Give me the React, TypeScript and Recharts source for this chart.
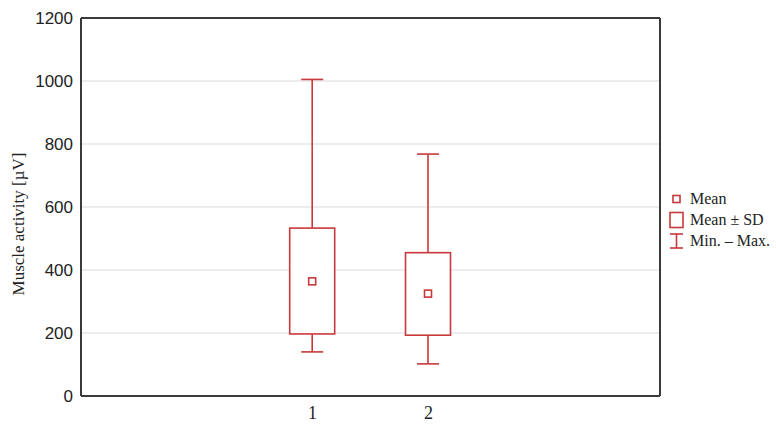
import { ComposedChart, Bar, XAxis, YAxis, CartesianGrid, ReferenceLine } from 'recharts';

const groups = [1, 2];
const minValues = [140, 102];
const sdLowValues = [197, 193];
const meanValues = [364, 325];
const sdHighValues = [533, 455];
const maxValues = [1005, 768];
const yTicks = [0, 200, 400, 600, 800, 1000, 1200];
const xTicks = [0, 1, 2, 3];

const RED = '#c8383c';
const FRAME = '#3a3a3a';

const data = groups.map((g, i) => ({
  group: g,
  range: [minValues[i], maxValues[i]],
  min: minValues[i],
  lo: sdLowValues[i],
  mean: meanValues[i],
  hi: sdHighValues[i],
  max: maxValues[i],
}));

// one bar spans min..max, the rest is placed with the same pixel scale
const BoxShape = (props: any) => {
  const { x, y, width, height, payload } = props;
  const k = height / (payload.max - payload.min);
  const py = (v: number) => y + (payload.max - v) * k;
  const cx = x + width / 2;
  const cap = 11;
  const m = 3.5;
  return (
    <g stroke={RED} strokeWidth={1.6} fill="none">
      <line x1={cx} x2={cx} y1={py(payload.max)} y2={py(payload.hi)} />
      <line x1={cx - cap} x2={cx + cap} y1={py(payload.max)} y2={py(payload.max)} />
      <line x1={cx} x2={cx} y1={py(payload.lo)} y2={py(payload.min)} />
      <line x1={cx - cap} x2={cx + cap} y1={py(payload.min)} y2={py(payload.min)} />
      <rect x={x} y={py(payload.hi)} width={width} height={py(payload.lo) - py(payload.hi)} fill="#fff" />
      <rect x={cx - m} y={py(payload.mean) - m} width={m * 2} height={m * 2} />
    </g>
  );
};

const YLabel = () => (
  <text
    x={18}
    y={224}
    transform="rotate(-90 18 224)"
    textAnchor="middle"
    dominantBaseline="central"
    fontFamily="'Liberation Serif', serif"
    fontSize={17}
    fill="#222"
  >
    Muscle activity [µV]
  </text>
);

function Legend() {
  const row = { display: 'flex', alignItems: 'center', height: 21 } as const;
  const txt = { fontFamily: "'Liberation Serif', serif", fontSize: 16, color: '#222', marginLeft: 6 };
  return (
    <div style={{ position: 'absolute', left: 668, top: 188 }}>
      <div style={row}>
        <svg width={16} height={16}>
          <rect x={5} y={4.5} width={7} height={7} stroke={RED} strokeWidth={1.6} fill="none" />
        </svg>
        <span style={txt}>Mean</span>
      </div>
      <div style={row}>
        <svg width={16} height={18}>
          <rect x={2} y={1.5} width={13} height={15} stroke={RED} strokeWidth={1.6} fill="none" />
        </svg>
        <span style={txt}>Mean ± SD</span>
      </div>
      <div style={row}>
        <svg width={16} height={18}>
          <g stroke={RED} strokeWidth={1.6}>
            <line x1={2} x2={15} y1={2} y2={2} />
            <line x1={8.5} x2={8.5} y1={2} y2={16} />
            <line x1={2} x2={15} y1={16} y2={16} />
          </g>
        </svg>
        <span style={txt}>Min. – Max.</span>
      </div>
    </div>
  );
}

export default function App() {
  return (
    <div style={{ position: 'absolute', left: 0, top: 0, width: 776, height: 431, background: '#fff' }}>
      <ComposedChart width={776} height={431} data={data} margin={{ top: 18, right: 116, bottom: 5, left: 0 }}>
        <CartesianGrid vertical={false} stroke="#dcdcdc" strokeWidth={1.2} />
        <XAxis
          dataKey="group"
          type="number"
          domain={[-1, 4]}
          ticks={xTicks}
          tickFormatter={(v: number) => (groups.includes(v) ? String(v) : '')}
          height={30}
          axisLine={{ stroke: FRAME, strokeWidth: 2 }}
          tickLine={false}
          tickSize={0}
          tickMargin={10}
          tick={{ fontFamily: "'Liberation Serif', serif", fontSize: 18, fill: '#222' }}
        />
        <YAxis
          domain={[0, 1200]}
          ticks={yTicks}
          width={81}
          axisLine={{ stroke: FRAME, strokeWidth: 2 }}
          tickLine={false}
          tickSize={0}
          tickMargin={8}
          tick={{ fontFamily: "'Liberation Sans', Arial, sans-serif", fontSize: 17, fill: '#222' }}
          label={<YLabel />}
        />
        <ReferenceLine y={1200} stroke={FRAME} strokeWidth={2} />
        <ReferenceLine x={4} stroke={FRAME} strokeWidth={2} />
        <Bar dataKey="range" barSize={45} shape={<BoxShape />} isAnimationActive={false} />
      </ComposedChart>
      <Legend />
    </div>
  );
}
